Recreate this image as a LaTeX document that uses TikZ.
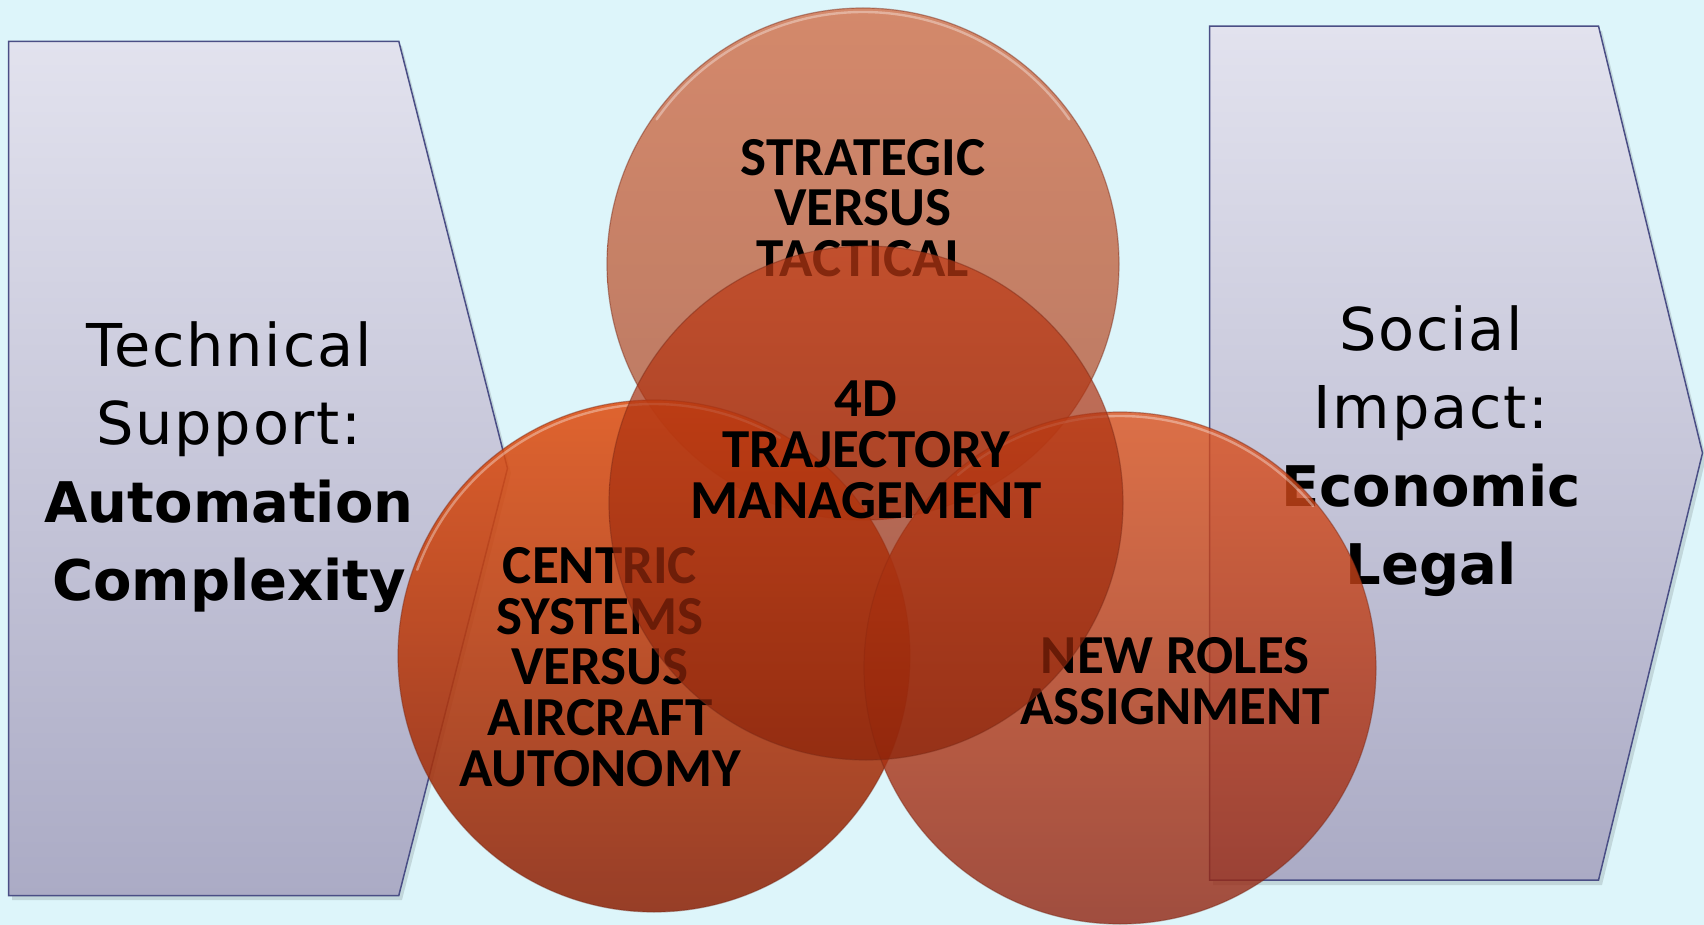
\documentclass[tikz,border=0pt]{standalone}
\usepackage{fontspec}
\newfontfamily\shapereg[LetterSpace=3]{DejaVu Sans}
\newfontfamily\shapebold{DejaVu Sans}
\newfontfamily\circfont{Carlito}
\definecolor{bgcol}{HTML}{DDF5FA}
\definecolor{shtop}{HTML}{E2E2EE}
\definecolor{shbot}{HTML}{ABABC5}
\definecolor{shline}{HTML}{4A4E85}
\definecolor{tctop}{HTML}{D26E48}
\definecolor{tcbot}{HTML}{AF593C}
\definecolor{lctop}{HTML}{E05013}
\definecolor{lcbot}{HTML}{8E250A}
\definecolor{rctop}{HTML}{DC4F1B}
\definecolor{rcbot}{HTML}{912411}
\definecolor{cctop}{HTML}{C03A15}
\definecolor{ccbot}{HTML}{8A2208}
\definecolor{cline}{HTML}{7A2A18}
\tikzset{
  panel/.style={top color=shtop, bottom color=shbot, draw=shline, line width=0.75pt, line join=miter},
  panelshadow/.style={fill=black, fill opacity=0.12},
  vennA/.style={draw=cline, draw opacity=0.45, line width=0.6pt},
  glint/.style={draw=white, draw opacity=0.35, line width=1.2pt, line cap=round},
  shapetxt/.style={align=center, inner sep=0pt, font={\fontsize{28}{38.9}\selectfont}},
  circtxt/.style={align=center, inner sep=0pt, font={\circfont\bfseries\fontsize{27.5}{25.4}\selectfont}}
}
\begin{document}
\begin{tikzpicture}[x=0.5pt,y=-0.5pt]
\fill[bgcol] (0,0) rectangle (1704,925);
\useasboundingbox (0,0) rectangle (1704,925);
% panel shadows
\fill[panelshadow] (12,46) -- (402,46) -- (511,473) -- (402,900) -- (12,900) -- cycle;
\fill[panelshadow] (1213,31) -- (1602,31) -- (1706,458) -- (1602,885) -- (1213,885) -- cycle;
% panels
\path[panel] (8.7,41.3) -- (398.8,41.3) -- (507.5,468.4) -- (398.8,895.5) -- (8.7,895.5) -- cycle;
\path[panel] (1209.5,26.1) -- (1598.5,26.1) -- (1702.5,453) -- (1598.5,880.2) -- (1209.5,880.2) -- cycle;
\node[shapetxt] (lefttxt) at (229,467) {{\shapereg\fontsize{29.5}{38.9}\selectfont Technical}\\{\shapereg\fontsize{29.5}{38.9}\selectfont Support:}\\{\shapebold\bfseries Automation}\\{\shapebold\bfseries Complexity}};
\node[shapetxt] (righttxt) at (1431,451) {{\shapereg\fontsize{29.5}{38.9}\selectfont Social}\\{\shapereg\fontsize{29.5}{38.9}\selectfont Impact:}\\{\shapebold\bfseries Economic}\\{\shapebold\bfseries Legal}};
% top circle
\path[vennA, top color=tctop, bottom color=tcbot, fill opacity=0.8] (863,264) circle[radius=256];
\draw[glint] (863,264) ++(215:252) arc[start angle=215, end angle=325, radius=252];
\node[circtxt] (toptxt) at (863,208) {STRATEGIC\\VERSUS\\TACTICAL};
% left circle
\path[vennA, top color=lctop, bottom color=lcbot, fill opacity=0.88] (654,656) circle[radius=256];
\draw[glint] (654,656) ++(200:252) arc[start angle=200, end angle=300, radius=252];
\node[circtxt] (lefttc) at (600,667) {CENTRIC\\SYSTEMS\\VERSUS\\AIRCRAFT\\AUTONOMY};
% right circle
\path[vennA, top color=rctop, bottom color=rcbot, fill opacity=0.8] (1120,668) circle[radius=256];
\draw[glint] (1120,668) ++(230:252) arc[start angle=230, end angle=320, radius=252];
\node[circtxt] (righttc) at (1175,681) {NEW ROLES\\ASSIGNMENT};
% center circle
\path[vennA, top color=cctop, bottom color=ccbot, fill opacity=0.7] (866,503) circle[radius=257];
\node[circtxt] (centtxt) at (866,450) {4D\\TRAJECTORY\\MANAGEMENT};
\end{tikzpicture}
\end{document}
